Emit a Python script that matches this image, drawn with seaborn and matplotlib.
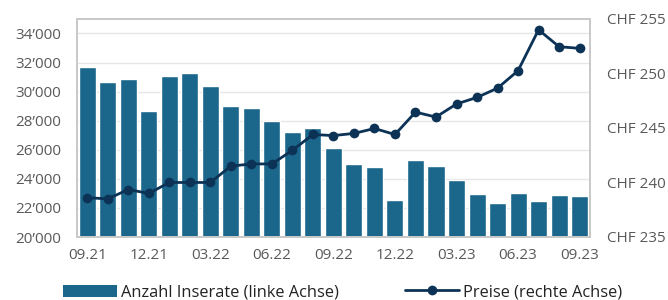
import numpy as np
import pandas as pd
import matplotlib.pyplot as plt
import matplotlib.ticker as mticker
from matplotlib.lines import Line2D
from matplotlib.patches import Patch
import seaborn as sns

# Daten: Anzahl Inserate und Preise pro Monat
monate = ['09.21', '10.21', '11.21', '12.21', '01.22', '02.22', '03.22', '04.22', '05.22',
          '06.22', '07.22', '08.22', '09.22', '10.22', '11.22', '12.22', '01.23', '02.23',
          '03.23', '04.23', '05.23', '06.23', '07.23', '08.23', '09.23']
inserate = [31700, 30630, 30900, 28650, 31100, 31270, 30370, 29000, 28880, 28010,
            27190, 27530, 26150, 25050, 24800, 22550, 25280, 24890, 23950, 22960,
            22370, 23060, 22460, 22920, 22820]
preise = [238.6, 238.5, 239.35, 239.0, 240.0, 240.0, 240.0, 241.5, 241.7, 241.7,
          242.95, 244.4, 244.3, 244.5, 244.95, 244.4, 246.45, 246.0, 247.2, 247.8,
          248.65, 250.25, 254.0, 252.45, 252.3]

df = pd.DataFrame({'Monat': monate, 'Inserate': inserate, 'Preis': preise, 'pos': np.arange(len(monate))})

sns.set_theme(style="white")
plt.rcParams['font.family'] = ['Open Sans', 'DejaVu Sans']

bar_farbe = '#1b678b'
linie_farbe = '#0c3356'
text_farbe = '#595959'
rahmen_farbe = '#c9c9c9'
fs = 11

fig = plt.figure(figsize=(6.68, 3.0), dpi=100)
ax = fig.add_axes([0.1153, 0.21, 0.883 - 0.1153, 0.727])

sns.barplot(data=df, x='Monat', y='Inserate', color=bar_farbe, width=0.83,
            saturation=1, ax=ax, zorder=2)
ax.set_ylim(20000, 35000)
ax.set_xlim(-0.5, len(monate) - 0.5)
ax.yaxis.set_major_locator(mticker.MultipleLocator(2000))
ax.yaxis.set_major_formatter(mticker.FuncFormatter(lambda v, p: f'{int(v) // 1000}\u2019{int(v) % 1000:03d}'))
ax.grid(axis='y', color='#e6e6e6', linewidth=1.0, zorder=0)
ax.set_axisbelow(True)
ax.set_xticks(np.arange(0, len(monate), 3))
ax.set_xticklabels(monate[::3])
ax.set_xlabel('')
ax.set_ylabel('')
ax.tick_params(axis='both', length=0, labelsize=fs, colors=text_farbe)
ax.tick_params(axis='x', pad=8)
ax.tick_params(axis='y', pad=11.5)

ax2 = ax.twinx()
sns.lineplot(data=df, x='pos', y='Preis', color=linie_farbe, linewidth=2.0,
             marker='o', markersize=7, markeredgewidth=0, ax=ax2)
ax2.set_ylim(235, 255)
ax2.yaxis.set_major_locator(mticker.MultipleLocator(5))
ax2.yaxis.set_major_formatter(mticker.FuncFormatter(lambda v, p: f'CHF {int(v)}'))
ax2.set_xlim(-0.5, len(monate) - 0.5)
ax2.set_ylabel('')
ax2.set_xlabel('')
ax2.tick_params(axis='y', length=0, labelsize=fs, colors=text_farbe, pad=12)

for a in (ax, ax2):
    for s in a.spines.values():
        s.set_color(rahmen_farbe)
        s.set_linewidth(1.3)

handles = [Patch(facecolor=bar_farbe, edgecolor='none'),
           Line2D([0], [0], color=linie_farbe, linewidth=2.0, marker='o', markersize=7, markeredgewidth=0)]
labels = ['Anzahl Inserate (linke Achse)', 'Preise (rechte Achse)']
fig.legend(handles, labels, loc='lower center', bbox_to_anchor=(0.513, -0.05), ncol=2,
           frameon=False, fontsize=11.8, handlelength=3.3, handleheight=0.75,
           columnspacing=4.0, handletextpad=0.25, labelcolor='#222222')

fig.savefig('out.png', dpi=100)
